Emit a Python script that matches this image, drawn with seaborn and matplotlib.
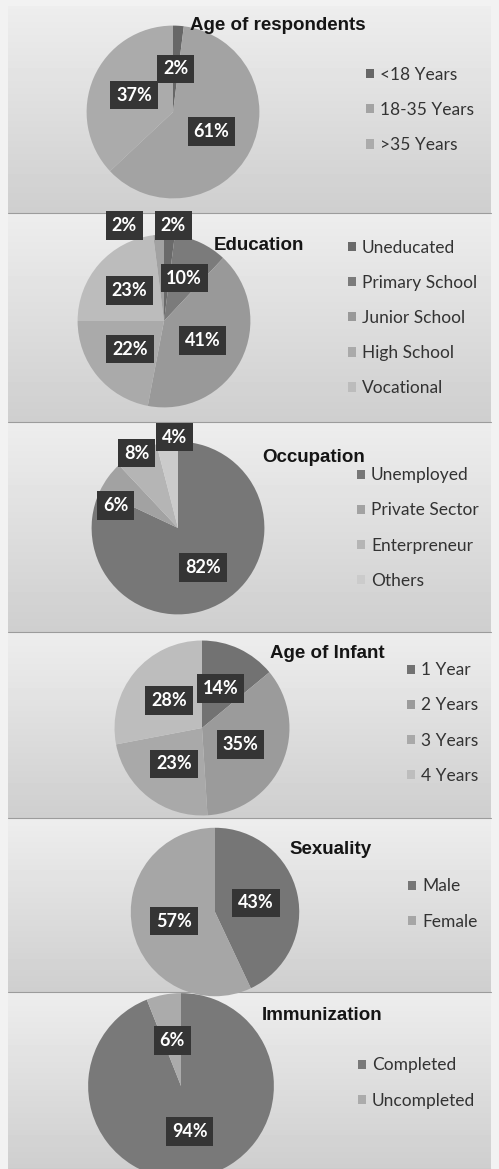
import numpy as np
import matplotlib
matplotlib.use('Agg')
import matplotlib.pyplot as plt
from matplotlib.patches import Patch
import seaborn as sns

# ================= 数据 =================
age_labels = ['<18 Years', '18-35 Years', '>35 Years']
age_values = [2, 61, 37]

edu_labels = ['Uneducated', 'Primary School', 'Junior School', 'High School', 'Vocational']
edu_values = [2, 10, 41, 22, 23, 2]   # 6 slices in the picture, 5 legend entries

occ_labels = ['Unemployed', 'Private Sector', 'Enterpreneur', 'Others']
occ_values = [82, 6, 8, 4]

infant_labels = ['1 Year', '2 Years', '3 Years', '4 Years']
infant_values = [14, 35, 23, 28]

sex_labels = ['Male', 'Female']
sex_values = [43, 57]

imm_labels = ['Completed', 'Uncompleted']
imm_values = [94, 6]

titles = ['Age of respondents', 'Education', 'Occupation',
          'Age of Infant', 'Sexuality', 'Immunization']

# ================= 样式 / 布局 (pixels) =================
W, H = 499, 1169
sns.set_theme(style='white')
plt.rcParams['font.family'] = ['Lato', 'DejaVu Sans']

PANELS = [(6, 213), (213, 422), (422, 632), (632, 818), (818, 992), (992, 1169)]

LAYOUT = [
    dict(c=(173, 112), r=80, title=(278, 25), leg=(366, 110),
         colors=['#676767', '#a3a3a3', '#ababab'],
         dist=[0.5, 0.5, 0.49], nudge={}),
    dict(c=(164, 321), r=80, title=(259, 245), leg=(348, 318),
         colors=['#6a6a6a', '#7b7b7b', '#999999', '#aaaaaa', '#bcbcbc', '#a2a2a2'],
         dist=[1.11, 0.55, 0.5, 0.51, 0.53, 1.11], nudge={0: (0.04, 0), 5: (-0.39, 0)}),
    dict(c=(178, 528), r=80, title=(314, 458), leg=(357, 528),
         colors=['#777777', '#a2a2a2', '#b5b5b5', '#cbcbcb'],
         dist=[0.54, 0.77, 0.99, 1.06], nudge={1: (-0.1, -0.19), 3: (0.09, 0)}),
    dict(c=(202, 728), r=81, title=(327, 653), leg=(407, 723),
         colors=['#727272', '#9b9b9b', '#a9a9a9', '#bdbdbd'],
         dist=[0.5, 0.48, 0.52, 0.49], nudge={}),
    dict(c=(215, 912), r=78, title=(331, 850), leg=(408, 904),
         colors=['#767676', '#a6a6a6'],
         dist=[0.5, 0.5], nudge={}),
    dict(c=(181, 1086), r=86, title=(322, 1015), leg=(358, 1083),
         colors=['#797979', '#ababab'],
         dist=[0.5, 0.5], nudge={}),
]

CHARTS = [
    (age_labels, age_values),
    (edu_labels, edu_values),
    (occ_labels, occ_values),
    (infant_labels, infant_values),
    (sex_labels, sex_values),
    (imm_labels, imm_values),
]


def fx(x):
    return x / W


def fy(y):
    return 1 - y / H


fig = plt.figure(figsize=(W / 100, H / 100), dpi=100, facecolor='#f2f2f2')

# 背景: 每个面板一个灰色渐变
bg = fig.add_axes([0, 0, 1, 1])
bg.set_xlim(0, W)
bg.set_ylim(H, 0)
bg.axis('off')
for top, bot in PANELS:
    grad = np.linspace(0.93, 0.81, 50).reshape(-1, 1)
    bg.imshow(grad, extent=(8, 491, bot, top), cmap='gray', vmin=0, vmax=1,
              aspect='auto', interpolation='bilinear')
    bg.plot([8, 491], [bot, bot], color='#9c9c9c', lw=0.8)

PAD = 1.35
for (labels, values), lay, title in zip(CHARTS, LAYOUT, titles):
    cx, cy = lay['c']
    r = lay['r']
    half = PAD * r
    ax = fig.add_axes([fx(cx - half), fy(cy + half), 2 * half / W, 2 * half / H])
    ax.set_xlim(-PAD, PAD)
    ax.set_ylim(-PAD, PAD)
    ax.axis('off')
    pal = sns.color_palette(lay['colors'])
    wedges, _ = ax.pie(values, colors=pal, startangle=90, counterclock=False,
                       radius=1, wedgeprops=dict(linewidth=0))
    # 数据标签 (深色方框)
    for i, (w, v) in enumerate(zip(wedges, values)):
        mid = np.deg2rad((w.theta1 + w.theta2) / 2)
        d = lay['dist'][i]
        dx, dy = lay['nudge'].get(i, (0, 0))
        ax.text(d * np.cos(mid) + dx, d * np.sin(mid) + dy, f'{v}%',
                ha='center', va='center', color='white', fontsize=13,
                fontweight='bold', clip_on=False,
                bbox=dict(boxstyle='square,pad=0.32', fc='#353535', ec='none'))
    fig.text(fx(lay['title'][0]), fy(lay['title'][1]), title,
             ha='center', va='center', fontsize=13.5, fontweight='bold',
             family=['Liberation Sans', 'DejaVu Sans'], color='#151515')
    handles = [Patch(facecolor=pal[i], edgecolor='none') for i in range(len(labels))]
    ax.legend(handles, labels, loc='center left',
              bbox_to_anchor=(fx(lay['leg'][0]), fy(lay['leg'][1])),
              bbox_transform=fig.transFigure, frameon=False, borderpad=0,
              borderaxespad=0, handlelength=0.45, handleheight=0.45,
              handletextpad=0.35, labelspacing=1.1,
              prop=dict(family='Lato', size=12.5), labelcolor='#333333')

fig.savefig('out.png', dpi=100, facecolor=fig.get_facecolor())
